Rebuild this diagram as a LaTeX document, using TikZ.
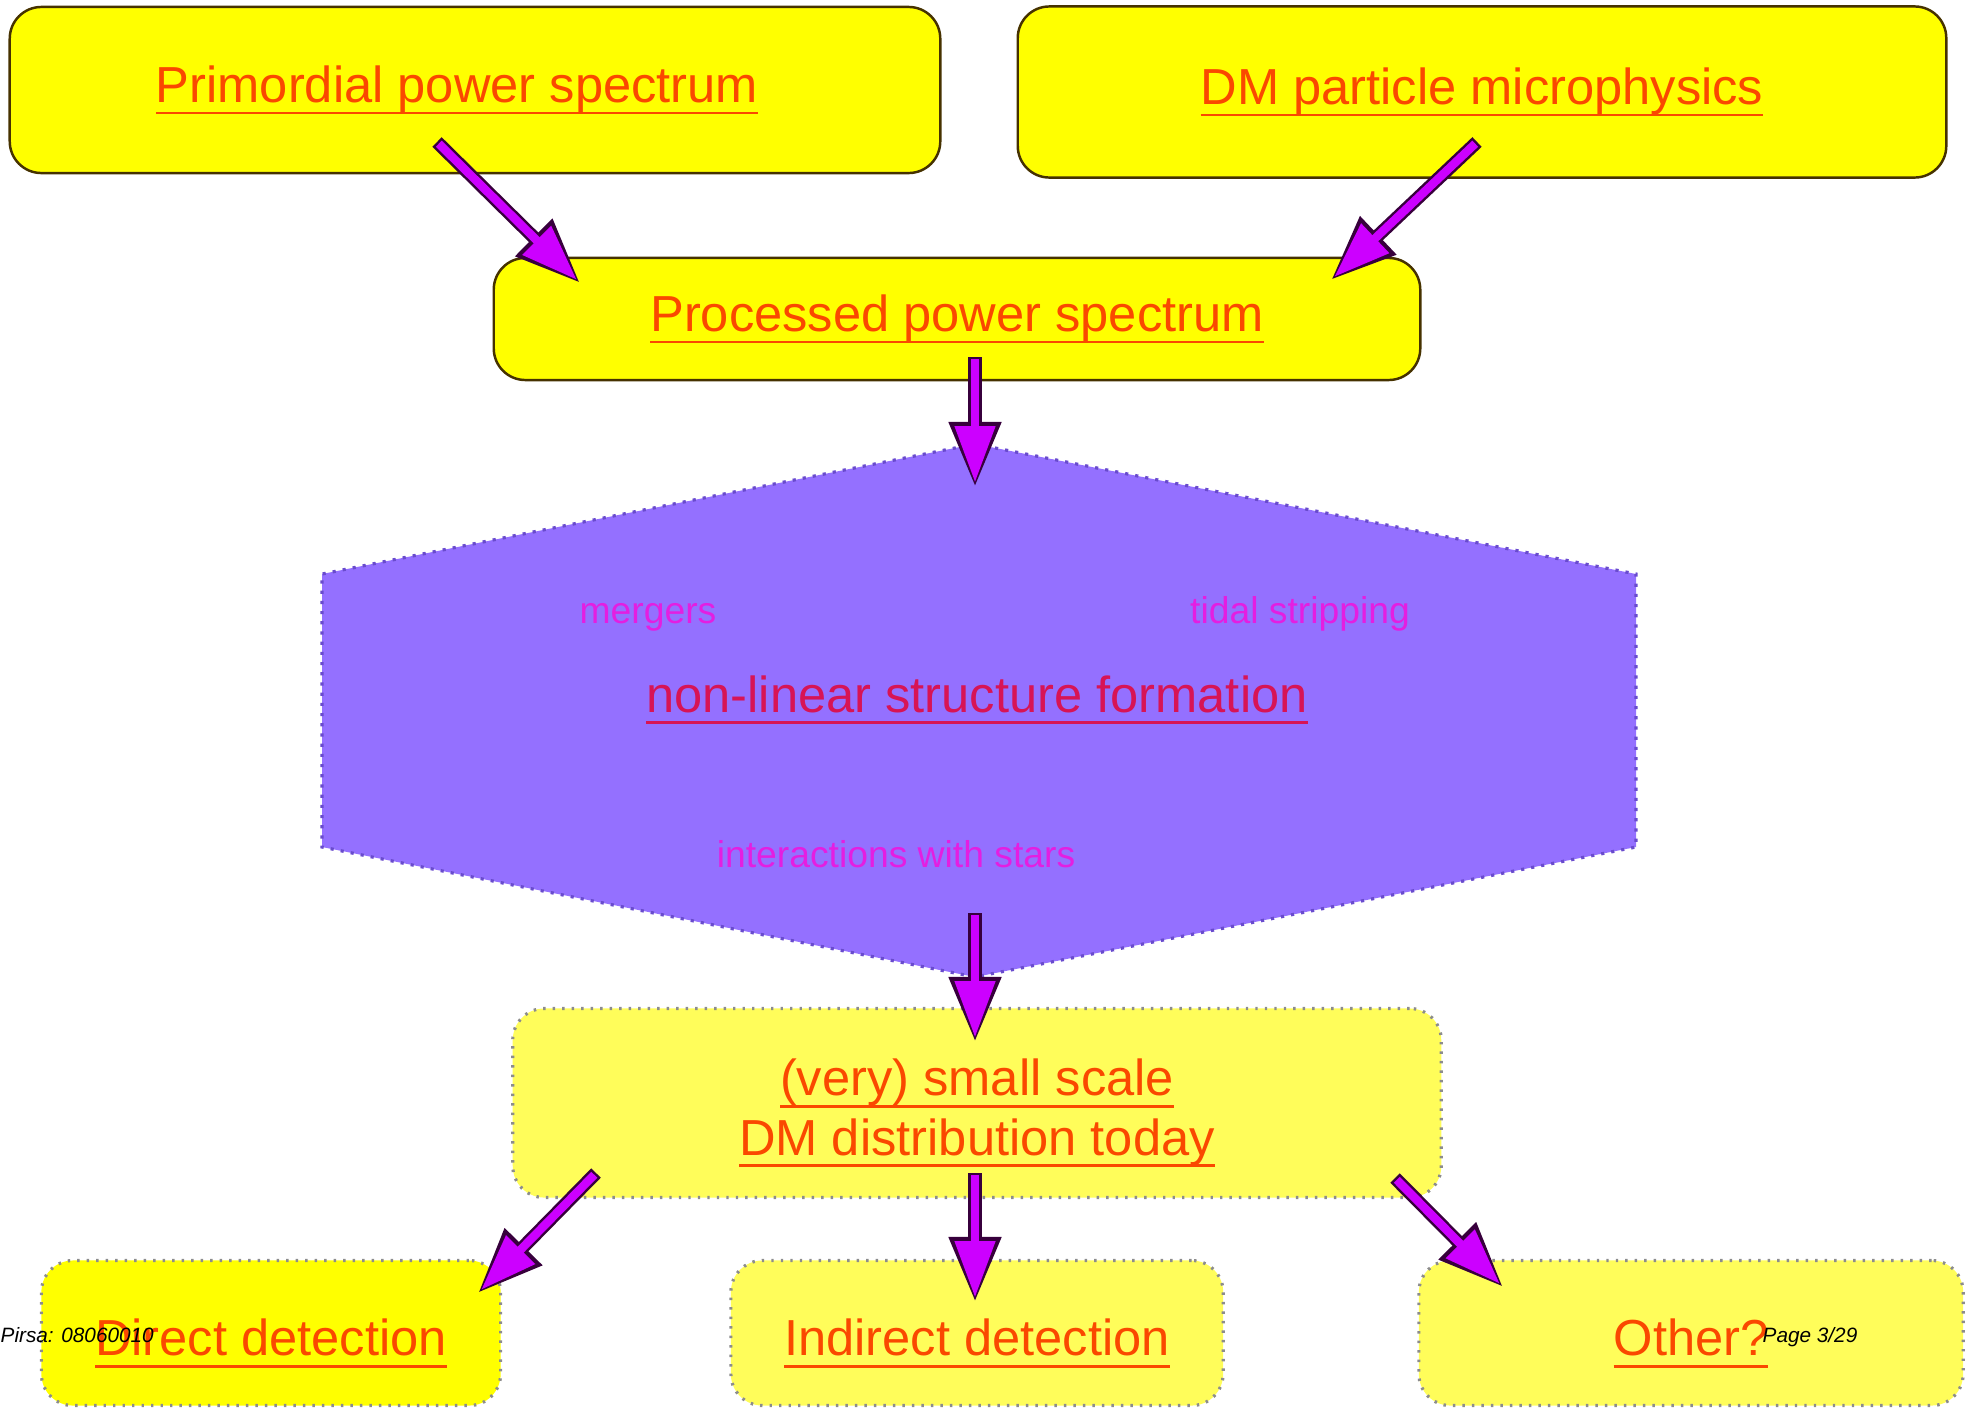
\documentclass[tikz,border=0pt]{standalone}
\usepackage{fontspec}
\setmainfont{Liberation Sans}
\usetikzlibrary{arrows.meta}
\newsavebox{\lnkbox}
\newcommand{\lnk}[1]{\sbox{\lnkbox}{#1}\rlap{\usebox{\lnkbox}}\rule[-3.4pt]{\wd\lnkbox}{0.8pt}}
\definecolor{boxyellow}{RGB}{255,255,0}
\definecolor{paleyellow}{RGB}{255,253,90}
\definecolor{linkred}{RGB}{250,72,0}
\definecolor{hexviolet}{RGB}{148,112,255}
\definecolor{hexedge}{RGB}{105,75,205}
\definecolor{hexlabel}{RGB}{228,30,225}
\definecolor{hextitle}{RGB}{215,20,85}
\definecolor{arrowfill}{RGB}{204,0,255}
\definecolor{arrowedge}{RGB}{55,0,60}
\definecolor{boxedge}{RGB}{70,50,0}
\tikzset{
  solidbox/.style={draw=boxedge, line width=0.7pt, fill=boxyellow, rounded corners=9pt,
    text=linkred, font=\fontsize{14.4}{17.3}\selectfont, align=center, inner sep=0pt},
  dotbox/.style={solidbox, draw=black!45, dotted, line width=0.9pt},
  lowtext/.style={text height=0.57cm, text depth=0.12cm},
  hexnote/.style={anchor=base, text=hexlabel, font=\fontsize{10.6}{12}\selectfont},
  footnote/.style={anchor=base west, font=\fontsize{5.9}{7}\selectfont\itshape, inner sep=0pt},
  fatarrow/.style={
    preaction={draw=arrowedge, line width=3.8pt, shorten >=0pt, shorten <=0pt,
      -{Triangle[length=18.5pt,width=14pt]}},
    draw=arrowfill, line width=2.4pt, shorten >=1.3pt, shorten <=0.7pt,
    -{Triangle[length=16pt,width=11pt]}}
}
\begin{document}
\begin{tikzpicture}[x=0.01cm,y=-0.01cm]
	\useasboundingbox (0,0) rectangle (1977,1412);
	% top row
	\node[solidbox, minimum width=9.30cm, minimum height=1.66cm] (prim)  at (475,90)  {\lnk{Primordial power spectrum}\hspace*{0.36cm}};
	\node[solidbox, minimum width=9.28cm, minimum height=1.71cm] (micro) at (1482,92) {\lnk{DM particle microphysics}};
	\node[solidbox, minimum width=9.26cm, minimum height=1.22cm] (proc)  at (957,319) {\lnk{Processed power spectrum}};
	% hexagon
	\fill[hexviolet] (975,444) coordinate (htop) -- (1636,574) -- (1636,847) -- (975,977) coordinate (hbot)
		-- (322,847) -- (322,574) -- cycle;
	\draw[hexedge, dotted, line width=0.9pt] (975,444) -- (1636,574) -- (1636,847) -- (975,977)
		-- (322,847) -- (322,574) -- cycle;
	\node[hexnote] (merg)  at (648,623)  {mergers};
	\node[hexnote] (tidal) at (1300,623) {tidal stripping};
	\node[hexnote, text=hextitle, font=\fontsize{14.4}{17.3}\selectfont] (nlsf) at (977,712) {\lnk{non-linear structure formation}};
	\node[hexnote] (stars) at (896,867)  {interactions with stars};
	% lower boxes
	\node[dotbox, fill=paleyellow, minimum width=9.28cm, minimum height=1.89cm] (dist) at (977,1103)
		{\rule{0pt}{16.2pt}\lnk{(very) small scale}\\[-0.4pt]\lnk{DM distribution today}};
	\node[dotbox, lowtext, minimum width=4.59cm, minimum height=1.45cm] (direct) at (271,1333) {\lnk{Direct detection}};
	\node[dotbox, lowtext, fill=paleyellow, minimum width=4.92cm, minimum height=1.45cm] (indirect) at (977,1333) {\lnk{Indirect detection}};
	\node[dotbox, lowtext, fill=paleyellow, minimum width=5.44cm, minimum height=1.45cm] (other) at (1691,1333) {\lnk{Other?}};
	% arrow ends
	\coordinate (prim-out)  at (437,142);
	\coordinate (micro-out) at (1477,142);
	\coordinate (proc-inl)  at (580,283);
	\coordinate (proc-inr)  at (1331,280);
	\coordinate (proc-out)  at (975,357);
	\coordinate (hex-in)    at (975,487);
	\coordinate (hex-out)   at (975,913);
	\coordinate (dist-in)   at (975,1042);
	\coordinate (dist-outl) at (596,1173);
	\coordinate (dist-outm) at (975,1173);
	\coordinate (dist-outr) at (1395,1178);
	\coordinate (direct-in) at (478,1293);
	\coordinate (indir-in)  at (975,1302);
	\coordinate (other-in)  at (1503,1287);
	\draw[fatarrow] (prim-out) -- (proc-inl);
	\draw[fatarrow] (micro-out) -- (proc-inr);
	\draw[fatarrow] (proc-out) -- (hex-in);
	\draw[fatarrow] (hex-out) -- (dist-in);
	\draw[fatarrow] (dist-outl) -- (direct-in);
	\draw[fatarrow] (dist-outm) -- (indir-in);
	\draw[fatarrow] (dist-outr) -- (other-in);
	% page marks
	\node[footnote] (pirsa) at (0,1342)    {Pirsa: 08060010};
	\node[footnote] (page)  at (1762,1342) {Page 3/29};
\end{tikzpicture}
\end{document}
